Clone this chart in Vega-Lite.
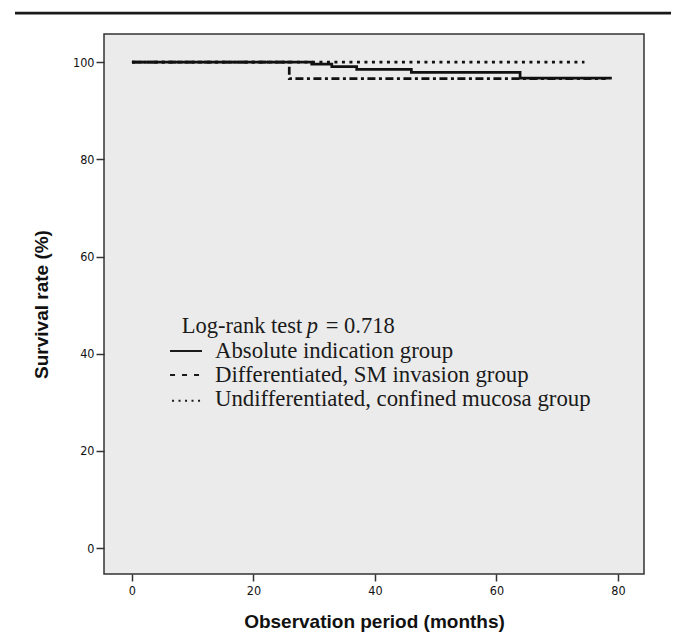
{
  "$schema": "https://vega.github.io/schema/vega-lite/v6.json",
  "width": 540,
  "height": 540,
  "autosize": {"type": "none"},
  "padding": {"left": 104, "top": 34, "right": 41, "bottom": 59},
  "background": "white",
  "data": {"values": [{}]},
  "config": {
    "view": {"stroke": "#333333", "strokeWidth": 1.5, "fill": "#ebebeb"},
    "axis": {
      "domain": false,
      "grid": false,
      "tickColor": "#333333",
      "tickWidth": 1.5,
      "labelFont": "Liberation Sans Narrow, DejaVu Sans Condensed, Liberation Sans",
      "labelFontSize": 12.5,
      "labelColor": "#111111",
      "titleFont": "Liberation Sans",
      "titleFontSize": 19,
      "titleFontWeight": "bold",
      "titleColor": "#111111"
    }
  },
  "datasets": {
    "curves": [
      {"group": "Absolute indication group", "month": 0, "survival": 100},
      {"group": "Absolute indication group", "month": 29.6, "survival": 99.6},
      {"group": "Absolute indication group", "month": 32.9, "survival": 99.1},
      {"group": "Absolute indication group", "month": 37, "survival": 98.5},
      {"group": "Absolute indication group", "month": 46, "survival": 97.9},
      {"group": "Absolute indication group", "month": 63.9, "survival": 96.7},
      {"group": "Absolute indication group", "month": 79, "survival": 96.7},
      {"group": "Differentiated, SM invasion group", "month": 0, "survival": 100},
      {"group": "Differentiated, SM invasion group", "month": 25.9, "survival": 96.6},
      {"group": "Differentiated, SM invasion group", "month": 78, "survival": 96.6},
      {"group": "Undifferentiated, confined mucosa group", "month": 0, "survival": 100},
      {"group": "Undifferentiated, confined mucosa group", "month": 74.5, "survival": 100}
    ]
  },
  "layer": [
    {
      "data": {"name": "curves"},
      "mark": {"type": "line", "interpolate": "step-after", "color": "#111111", "strokeWidth": 2.7},
      "encoding": {
        "x": {
          "field": "month", "type": "quantitative",
          "scale": {"domain": [-4.6, 84.3], "nice": false, "zero": false},
          "axis": {"values": [0, 20, 40, 60, 80], "tickSize": 7, "labelPadding": 3, "title": "Observation period (months)", "titlePadding": 16}
        },
        "y": {
          "field": "survival", "type": "quantitative",
          "scale": {"domain": [-5.35, 105.8], "nice": false, "zero": false},
          "axis": {"values": [0, 20, 40, 60, 80, 100], "tickSize": 8, "labelPadding": 2, "title": "Survival rate (%)", "titlePadding": 21}
        },
        "detail": {"field": "group"},
        "strokeDash": {
          "field": "group", "type": "nominal",
          "scale": {
            "domain": ["Absolute indication group", "Differentiated, SM invasion group", "Undifferentiated, confined mucosa group"],
            "range": [[1, 0], [8, 3.5, 3, 3.5], [3, 4.5]]
          },
          "legend": null
        }
      }
    },
    {
      "mark": {"type": "rule", "color": "#1a1a1a", "strokeWidth": 2.8},
      "encoding": {"x": {"datum": -19.25}, "x2": {"datum": 88.75}, "y": {"datum": 110.1}}
    },
    {
      "mark": {"type": "text", "font": "Liberation Serif", "fontSize": 22.5, "color": "#1a1a1a", "align": "left", "baseline": "alphabetic", "text": "Log-rank test"},
      "encoding": {"x": {"datum": 8.19}, "y": {"datum": 44.25}}
    },
    {
      "mark": {"type": "text", "font": "Liberation Serif", "fontSize": 22.5, "fontStyle": "italic", "color": "#1a1a1a", "align": "left", "baseline": "alphabetic", "text": "p"},
      "encoding": {"x": {"datum": 28.77}, "y": {"datum": 44.25}}
    },
    {
      "mark": {"type": "text", "font": "Liberation Serif", "fontSize": 22.5, "color": "#1a1a1a", "align": "left", "baseline": "alphabetic", "text": "= 0.718"},
      "encoding": {"x": {"datum": 31.9}, "y": {"datum": 44.25}}
    },
    {
      "mark": {"type": "text", "font": "Liberation Serif", "fontSize": 22.8, "color": "#1a1a1a", "align": "left", "baseline": "alphabetic", "text": "Absolute indication group"},
      "encoding": {"x": {"datum": 13.67}, "y": {"datum": 39.1}}
    },
    {
      "mark": {"type": "text", "font": "Liberation Serif", "fontSize": 22.8, "color": "#1a1a1a", "align": "left", "baseline": "alphabetic", "text": "Differentiated, SM invasion group"},
      "encoding": {"x": {"datum": 13.67}, "y": {"datum": 34.17}}
    },
    {
      "mark": {"type": "text", "font": "Liberation Serif", "fontSize": 22.8, "color": "#1a1a1a", "align": "left", "baseline": "alphabetic", "text": "Undifferentiated, confined mucosa group"},
      "encoding": {"x": {"datum": 13.67}, "y": {"datum": 29.23}}
    },
    {
      "mark": {"type": "rule", "color": "#1a1a1a", "strokeWidth": 2},
      "encoding": {"x": {"datum": 6.27}, "x2": {"datum": 11.53}, "y": {"datum": 40.55}}
    },
    {
      "mark": {"type": "rule", "color": "#1a1a1a", "strokeWidth": 2, "strokeDash": [5, 7]},
      "encoding": {"x": {"datum": 6.27}, "x2": {"datum": 11.2}, "y": {"datum": 35.6}}
    },
    {
      "mark": {"type": "rule", "color": "#1a1a1a", "strokeWidth": 2, "strokeDash": [2, 4.5]},
      "encoding": {"x": {"datum": 6.6}, "x2": {"datum": 11.3}, "y": {"datum": 30.3}}
    }
  ]
}
